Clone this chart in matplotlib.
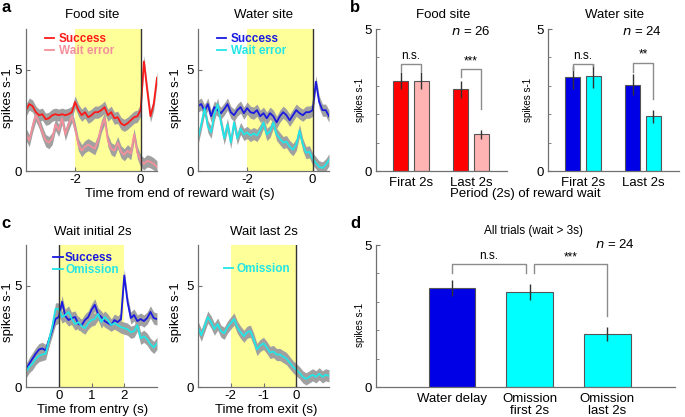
import matplotlib
matplotlib.use("Agg")
import matplotlib.pyplot as plt
import numpy as np

plt.rcParams['font.family'] = ['Liberation Sans', 'DejaVu Sans']
plt.rcParams['axes.unicode_minus'] = False

# ---- panel a: firing around end of reward wait, 0.1 s bins
t_a = np.linspace(-3.5, 0.5, 41)
food_success = [3.0, 3.3, 3.2, 2.9, 2.75, 2.8, 2.55, 2.6, 2.75, 2.8, 2.75, 2.8, 2.75, 2.8,
                2.9, 3.4, 3.0, 2.75, 2.9, 2.65, 2.75, 2.9, 2.9, 3.0, 3.15, 2.75, 2.9, 2.6,
                2.65, 2.35, 2.25, 2.35, 2.5, 2.65, 2.7, 3.0, 5.4, 4.0, 2.7, 3.3, 4.6]
food_wait_error = [1.8, 1.5, 2.2, 2.75, 2.4, 1.9, 1.5, 1.4, 1.6, 2.3, 2.0, 2.6, 1.8, 2.3,
                   2.7, 2.1, 1.3, 1.0, 1.2, 1.3, 1.2, 1.1, 1.5, 2.2, 2.6, 1.5, 1.1, 1.0,
                   1.4, 0.95, 0.8, 1.0, 0.85, 1.8, 0.9, 0.5, 0.35, 0.5, 0.45, 0.35, 0.2]
water_success = [3.2, 3.3, 2.95, 3.3, 2.7, 3.15, 3.0, 2.85, 3.05, 3.3, 2.9, 2.75, 3.0, 3.15,
                 2.85, 3.1, 2.9, 2.85, 3.0, 2.7, 2.85, 2.6, 2.85, 2.7, 2.4, 2.7, 2.9, 2.75,
                 2.5, 2.75, 3.0, 2.85, 2.75, 2.9, 2.9, 3.0, 4.4, 3.4, 3.0, 3.0, 2.7]
water_wait_error = [1.6, 2.3, 3.1, 2.2, 1.9, 2.8, 3.3, 2.4, 1.6, 2.3, 1.4, 2.4, 1.6, 2.1,
                    1.8, 1.9, 1.75, 1.85, 1.75, 2.0, 2.4, 1.8, 1.95, 2.4, 1.8, 1.6, 1.4, 1.45,
                    1.2, 1.05, 1.3, 2.0, 1.3, 0.9, 0.95, 0.6, 0.4, 0.2, 0.15, 0.3, 0.55]
sem_a = 0.3

# ---- panel b: mean rate per 2 s period
periods = ["Firat 2s", "Last 2s"]
food_success_bar = [3.17, 2.88]
food_success_err = [0.30, 0.30]
food_error_bar = [3.17, 1.29]
food_error_err = [0.30, 0.15]
water_success_bar = [3.30, 3.03]
water_success_err = [0.40, 0.37]
water_error_bar = [3.36, 1.92]
water_error_err = [0.42, 0.24]

# ---- panel c: omission trials
t_entry = np.linspace(-1.0, 3.0, 41)
entry_success = [0.85, 1.15, 1.4, 1.65, 1.85, 1.9, 1.8, 2.3, 2.8, 3.35, 3.45, 4.2, 3.5, 3.3,
                 3.4, 3.45, 3.1, 3.05, 3.3, 3.45, 3.8, 4.05, 3.6, 3.45, 3.25, 3.15, 3.05, 3.3,
                 3.2, 3.35, 5.5, 4.2, 3.4, 3.55, 3.25, 3.35, 3.25, 3.4, 3.7, 3.4, 3.35]
entry_omission = [0.75, 1.0, 1.15, 1.4, 1.55, 1.6, 1.65, 2.3, 2.95, 3.85, 3.85, 3.45, 3.55, 3.7,
                  3.35, 3.1, 3.2, 3.0, 2.9, 3.15, 3.3, 3.35, 3.6, 3.2, 3.45, 3.3, 3.05, 3.15,
                  3.05, 2.95, 2.9, 2.85, 2.7, 2.75, 3.05, 2.4, 2.5, 2.35, 2.1, 1.95, 2.15]
t_exit = np.linspace(-3.0, 1.0, 41)
exit_omission = [2.95, 2.55, 3.0, 3.45, 3.2, 2.85, 3.1, 2.75, 2.65, 2.95, 3.15, 3.35, 2.95, 2.7,
                 2.5, 2.7, 2.75, 2.35, 1.85, 2.05, 2.15, 1.95, 1.7, 1.75, 1.6, 1.6, 1.5, 1.4,
                 1.2, 1.0, 0.85, 0.7, 0.5, 0.4, 0.5, 0.6, 0.5, 0.65, 0.5, 0.6, 0.55]
sem_c = 0.3

# ---- panel d
d_labels = ["Water delay", "Omission\nfirst 2s", "Omission\nlast 2s"]
d_values = [3.49, 3.35, 1.86]
d_err = [0.29, 0.29, 0.24]

RED, PINK = '#ff1a1a', '#f4909c'
BLUE, CYAN = '#1a1ae0', '#22e6e6'
YELLOW, GREY, SPINE = '#ffff99', '#a0a0a0', '#707070'

W, H = 685, 417
fig = plt.figure(figsize=(6.85, 4.17), dpi=100)


def px_axes(x0, y0, x1, y1):
    return fig.add_axes([x0 / W, 1 - y1 / H, (x1 - x0) / W, (y1 - y0) / H])


def ftext(x, y, s, **kw):
    fig.text(x / W, 1 - y / H, s, ha='center', va='center', **kw)


def style(ax):
    for s in ['top', 'right']:
        ax.spines[s].set_visible(False)
    for s in ['left', 'bottom']:
        ax.spines[s].set_color(SPINE)
        ax.spines[s].set_linewidth(0.9)
    ax.tick_params(direction='in', length=3, color=SPINE, labelsize=9.5, pad=3)
    ax.tick_params(axis='x', pad=2)
    ax.tick_params(which='minor', direction='in', length=2, color=SPINE)


def trace_panel(ax, t, series, sem, span, xlim, xticks):
    ax.axvspan(span[0], span[1], color=YELLOW, lw=0, zorder=0)
    for y, col, lab in series:
        y = np.asarray(y)
        ax.fill_between(t, y - sem, y + sem, color=GREY, lw=0, zorder=1)
    for y, col, lab in series:
        ax.plot(t, y, color=col, lw=1.3, zorder=2, label=lab)
    ax.axvline(0, color='#333333', lw=1.0, zorder=3)
    ax.set_xlim(*xlim)
    ax.set_ylim(0, 7)
    ax.set_yticks([0, 5])
    ax.set_xticks(xticks)
    style(ax)


def legend(ax, anchor, pad):
    ax.legend(loc='upper left', bbox_to_anchor=anchor, frameon=False,
              prop={'weight': 'bold', 'size': 8.5}, handlelength=0.8, handletextpad=pad,
              labelspacing=0.0, borderpad=0.2, labelcolor='linecolor')


# panel a
ax_a1 = px_axes(26, 29, 157, 171)
trace_panel(ax_a1, t_a, [(food_success, RED, 'Success'), (food_wait_error, PINK, 'Wait error')],
            sem_a, (-2, 0), (-3.5, 0.5), [-2, 0])
ax_a2 = px_axes(198, 29, 329, 171)
trace_panel(ax_a2, t_a, [(water_success, BLUE, 'Success'), (water_wait_error, CYAN, 'Wait error')],
            sem_a, (-2, 0), (-3.5, 0.5), [-2, 0])
for ax in (ax_a1, ax_a2):
    legend(ax, (0.08, 1.03), 0.4)

# panel c
ax_c1 = px_axes(26, 245, 157, 387)
trace_panel(ax_c1, t_entry, [(entry_success, BLUE, 'Success'), (entry_omission, CYAN, 'Omission')],
            sem_c, (0, 2), (-1, 3), [0, 1, 2])
legend(ax_c1, (0.145, 1.01), 0.2)
ax_c2 = px_axes(198, 245, 329, 387)
trace_panel(ax_c2, t_exit, [(exit_omission, CYAN, 'Omission')],
            sem_c, (-2, 0), (-3, 1), [-2, -1, 0])
legend(ax_c2, (0.135, 0.93), 0.3)


def bracket(ax, x1, x2, ytop, yl, yr, label, ty):
    ax.plot([x1, x1, x2, x2], [yl, ytop, ytop, yr], color='#8c8c8c', lw=1.0, zorder=3)
    ax.text((x1 + x2) / 2, ty, label, ha='center', va='center', fontsize=8.5)


def bar_panel(ax, vals1, err1, col1, vals2, err2, col2, brackets, n_text):
    g = np.arange(1, len(periods) + 1)
    ax.bar(g - 0.17, vals1, 0.25, color=col1, edgecolor='#555555', lw=0.8, zorder=2)
    ax.bar(g + 0.17, vals2, 0.25, color=col2, edgecolor='#555555', lw=0.8, zorder=2)
    ax.errorbar(g - 0.17, vals1, yerr=err1, fmt='none', ecolor='#333333', elinewidth=1, zorder=3)
    ax.errorbar(g + 0.17, vals2, yerr=err2, fmt='none', ecolor='#333333', elinewidth=1, zorder=3)
    for gi, ytop, yl, yr, lab, ty in brackets:
        bracket(ax, g[gi] - 0.17, g[gi] + 0.17, ytop, yl, yr, lab, ty)
    ax.set_xlim(0.42, 2.6)
    ax.set_ylim(0, 5)
    ax.set_yticks([0, 5])
    ax.set_yticks([1, 2, 3, 4], minor=True)
    ax.set_xticks(g)
    ax.set_xticklabels(periods)
    style(ax)
    ax.tick_params(axis='x', length=0, labelsize=9.5, pad=4)
    ax.text(0.72, 0.985, n_text, transform=ax.transAxes, ha='center', va='center', fontsize=9.5)


ax_b1 = px_axes(376, 29, 507, 171)
bar_panel(ax_b1, food_success_bar, food_success_err, '#ff0000',
          food_error_bar, food_error_err, '#ffb4b4',
          [(0, 3.76, 3.52, 3.52, 'n.s.', 4.06), (1, 3.6, 3.3, 2.2, '***', 3.85)],
          r'$n$ = 26')
ax_b2 = px_axes(548, 29, 679, 171)
bar_panel(ax_b2, water_success_bar, water_success_err, '#0000e6',
          water_error_bar, water_error_err, '#00ffff',
          [(0, 3.76, 3.55, 3.7, 'n.s.', 4.06), (1, 3.8, 3.5, 2.52, '**', 4.1)],
          r'$n$ = 24')

# panel d
ax_d = px_axes(376, 245, 675, 387)
xd = np.arange(1, len(d_values) + 1)
ax_d.bar(xd, d_values, 0.6, color=['#0000e6', '#00ffff', '#00ffff'],
         edgecolor='#555555', lw=0.8, zorder=2)
ax_d.errorbar(xd, d_values, yerr=d_err, fmt='none', ecolor='#333333', elinewidth=1, zorder=3)
bracket(ax_d, 1.0, 1.95, 4.32, 4.02, 4.02, 'n.s.', 4.62)
bracket(ax_d, 2.05, 3.0, 4.32, 4.02, 2.49, '***', 4.55)
ax_d.set_xlim(0.02, 3.87)
ax_d.set_ylim(0, 5)
ax_d.set_yticks([0, 5])
ax_d.set_yticks([1, 2, 3, 4], minor=True)
ax_d.set_xticks(xd)
ax_d.set_xticklabels(d_labels, linespacing=1.0)
style(ax_d)
ax_d.tick_params(axis='x', length=0, labelsize=9.5, pad=4)
ax_d.text(0.8, 1.0, r'$n$ = 24', transform=ax_d.transAxes, ha='center', va='center', fontsize=9.5)

# titles, labels, panel letters
ftext(92, 15, 'Food site', fontsize=9.5)
ftext(264, 15, 'Water site', fontsize=9.5)
ftext(443, 15, 'Food site', fontsize=9.5)
ftext(615, 15, 'Water site', fontsize=9.5)
ftext(93, 232, 'Wait initial 2s', fontsize=9.5)
ftext(264, 232, 'Wait last 2s', fontsize=9.5)
ftext(533, 231, 'All trials (wait > 3s)', fontsize=8.5)

ftext(180, 194, 'Time from end of reward wait (s)', fontsize=9.5)
ftext(525, 194, 'Period (2s) of reward wait', fontsize=9.5)
ftext(93, 410, 'Time from entry (s)', fontsize=9.5)
ftext(266, 410, 'Time from exit (s)', fontsize=9.5)

for x, y, fs in [(8, 98, 9.5), (176, 98, 9.5), (360, 100, 7), (528, 100, 7),
                 (8, 312, 9.5), (176, 312, 9.5), (360, 325, 7)]:
    ftext(x, y, 'spikes s-1', fontsize=fs, rotation=90)

for x, y, s in [(6, 8, 'a'), (355, 8, 'b'), (6, 223, 'c'), (355, 223, 'd')]:
    ftext(x, y, s, fontsize=12, fontweight='bold')

fig.savefig('out.png', dpi=100)
